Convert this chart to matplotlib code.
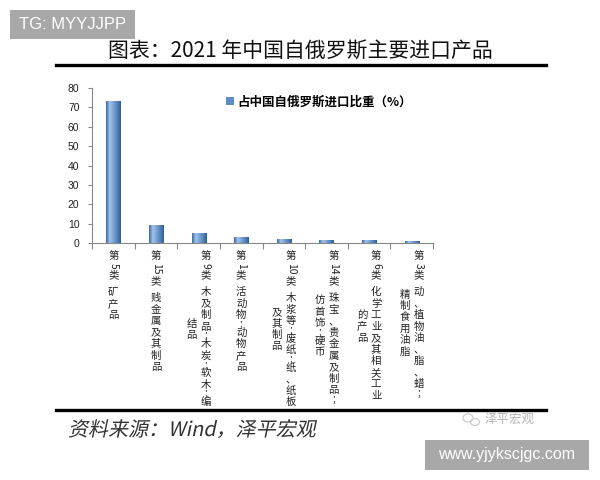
import numpy as np
import matplotlib.pyplot as plt
from matplotlib.colors import LinearSegmentedColormap
from matplotlib.patches import Rectangle, PathPatch, Ellipse
from matplotlib.textpath import TextPath
from matplotlib.font_manager import FontProperties
from matplotlib.transforms import Affine2D
from matplotlib.lines import Line2D

plt.rcParams['font.family'] = ['Noto Sans CJK SC', 'DejaVu Sans']

# data
label_columns = [
    ["第5类 矿产品"],
    ["第15类 贱金属及其制品"],
    ["第9类 木及制品;木炭;软木;编", "结品"],
    ["第1类 活动物;动物产品"],
    ["第10类 木浆等;废纸;纸、纸板", "及其制品"],
    ["第14类 珠宝、贵金属及制品;", "仿首饰;硬币"],
    ["第6类 化学工业及其相关工业", "的产品"],
    ["第3类 动、植物油、脂、蜡;", "精制食用油脂"],
]
import_share = [72.8, 8.8, 5.0, 2.7, 1.6, 1.5, 1.4, 0.9]
y_ticks = list(range(0, 81, 10))

title = "图表：2021 年中国自俄罗斯主要进口产品"
legend_label = "占中国自俄罗斯进口比重（%）"
source = "资料来源：Wind，泽平宏观"

W, H = 600, 480


def fx(px):
    return px / W


def fy(py):
    return 1 - py / H


fig = plt.figure(figsize=(6, 4.8), dpi=100)
ax = fig.add_axes([fx(92), fy(243), (433 - 92) / W, (243 - 88) / H])

x = np.arange(len(import_share))
bars = ax.bar(x, import_share, width=0.33, color='#5b8cc5', zorder=2)

# excel-like gradient on each bar
cmap = LinearSegmentedColormap.from_list(
    'bar', ['#3a6aa3', '#a3c3e8', '#7aa4d6', '#5584bd', '#2f5e96'])
grad = np.linspace(0, 1, 64).reshape(1, -1)
for p in bars.patches:
    ax.imshow(grad, extent=[p.get_x(), p.get_x() + p.get_width(), 0, p.get_height()],
              aspect='auto', cmap=cmap, zorder=2.1)

ax.set_xlim(-0.5, len(x) - 0.5)
ax.set_ylim(0, 80)
ax.set_yticks(y_ticks)
ax.set_xticks(x)
ax.set_xticks(np.arange(-0.5, len(x), 1), minor=True)
ax.tick_params(axis='x', which='major', length=0, labelbottom=False)
ax.tick_params(axis='x', which='minor', length=4, color='#888888', width=0.8)
ax.tick_params(axis='y', length=3, color='#888888', width=0.8, pad=6,
               labelsize=7.5, labelcolor='#222222', labelfontfamily='Liberation Sans')
for s in ['top', 'right']:
    ax.spines[s].set_visible(False)
for s in ['left', 'bottom']:
    ax.spines[s].set_color('#888888')
    ax.spines[s].set_linewidth(0.8)


def tokenize(s):
    # (text, advance in px, rotation, fontsize)
    toks = []
    i = 0
    while i < len(s):
        c = s[i]
        if c.isdigit():
            j = i
            while j < len(s) and s[j].isdigit():
                j += 1
            toks.append((s[i:j], 6 * (j - i) + 2, -90, 7.5))
            i = j
            continue
        if c == ' ':
            toks.append(('', 5, 0, 7.5))
        elif c == ';':
            toks.append((c, 6, 0, 7))
        else:
            toks.append((c, 11.5, 0, 7.5))
        i += 1
    return toks


def vertical_label(xpos, columns, top=7.5, col_gap=14):
    col_toks = [tokenize(c) for c in columns]
    heights = [sum(t[1] for t in toks) for toks in col_toks]
    n = len(columns)
    for j, toks in enumerate(col_toks):
        dx = ((n - 1) / 2 - j) * col_gap
        y = top + (heights[0] - heights[j]) / 2
        for text, adv, rot, size in toks:
            if text:
                ax.annotate(text, xy=(xpos, 0), xycoords=ax.get_xaxis_transform(),
                            xytext=(dx * 0.72, -(y + adv / 2) * 0.72),
                            textcoords='offset points', ha='center', va='center',
                            rotation=rot, fontsize=size, color='#222222',
                            annotation_clip=False)
            y += adv


for i, cols in enumerate(label_columns):
    vertical_label(x[i], cols)

ax.legend([bars], [legend_label], loc='center left',
          bbox_to_anchor=(fx(226), fy(102)), bbox_transform=fig.transFigure,
          frameon=False, handlelength=0.6, handleheight=0.6, handletextpad=0.3,
          borderpad=0, borderaxespad=0,
          prop=FontProperties(family='Noto Sans CJK SC', weight='bold', size=9))

# title and rules
fig.text(0.5, fy(51), title, ha='center', va='center', fontsize=15, color='#111111')
for yy in (65, 410):
    fig.add_artist(Line2D([fx(56), fx(546)], [fy(yy), fy(yy)], lw=2.4,
                          color='black', transform=fig.transFigure))

# italic source line
tp = TextPath((0, 0), source, size=20, prop=FontProperties(family='Noto Sans CJK SC'))
tr = Affine2D().skew_deg(12, 0).translate(68, H - 436).scale(1 / W, 1 / H) + fig.transFigure
fig.add_artist(PathPatch(tp, transform=tr, facecolor='#333333', edgecolor='none'))

# faint watermark
fig.add_artist(Ellipse((fx(468), fy(418)), 10 / W, 8 / H, transform=fig.transFigure,
                       fill=False, edgecolor='#c8c8c8', lw=0.8))
fig.add_artist(Ellipse((fx(475), fy(422)), 9 / W, 7 / H, transform=fig.transFigure,
                       fill=False, edgecolor='#c8c8c8', lw=0.8))
fig.text(fx(485), fy(419), '泽平宏观', color='#b5b5b5', fontsize=9, va='center')

# grey stamp boxes
fig.add_artist(Rectangle((fx(10), fy(39)), 125 / W, 29 / H, transform=fig.transFigure,
                         facecolor='#a8a8a8', edgecolor='none'))
fig.text(fx(72.5), fy(24.5), 'TG: MYYJJPP', ha='center', va='center', color='white',
         fontsize=12, family='Liberation Sans')
fig.add_artist(Rectangle((fx(425), fy(470)), 164 / W, 30 / H, transform=fig.transFigure,
                         facecolor='#a8a8a8', edgecolor='none'))
fig.text(fx(507), fy(455), 'www.yjykscjgc.com', ha='center', va='center', color='white',
         fontsize=11.5, family='Liberation Sans')

fig.savefig('out.png', dpi=100)
